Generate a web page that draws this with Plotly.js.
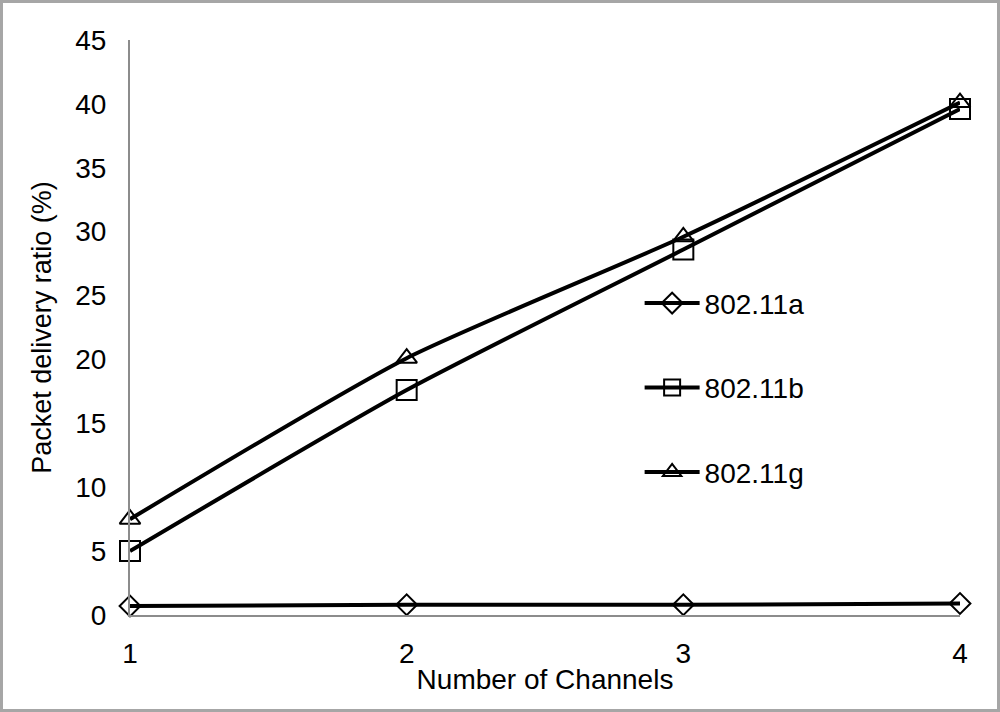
<!DOCTYPE html>
<html>
<head>
<meta charset="utf-8">
<script src="https://cdn.plot.ly/plotly-3.0.1.min.js"></script>
<style>
html,body{margin:0;padding:0;background:#fff;}
#wrap{position:relative;width:1000px;height:712px;}
#chart{width:1000px;height:712px;}
#frame{position:absolute;left:0;top:0;width:1000px;height:712px;box-sizing:border-box;border:3px solid #a6a6a6;pointer-events:none;}
</style>
</head>
<body>
<div id="wrap"><div id="chart"></div><div id="frame"></div></div>
<script>
var channels = [1, 2, 3, 4];
var seriesNames = ["802.11a", "802.11b", "802.11g"];
var pdr_a = [0.7, 0.8, 0.8, 0.9];
var pdr_b = [5.0, 17.6, 28.6, 39.6];
var pdr_g = [7.5, 20.1, 29.6, 40.1];
var yTicks = [0, 5, 10, 15, 20, 25, 30, 35, 40, 45];

var symbols = ["diamond-open", "square-open", "triangle-up-open"];
var sizes = [16, 20, 18];
var data = [pdr_a, pdr_b, pdr_g].map(function (ys, i) {
  return {
    x: channels, y: ys, name: seriesNames[i], type: "scatter", mode: "lines+markers",
    legendgroup: "g" + i,
    line: {color: "#000", width: 4, shape: "spline", smoothing: 0.6},
    marker: {symbol: symbols[i], size: sizes[i], color: "#000", line: {width: 2, color: "#000"}},
    cliponaxis: false
  };
});

var fam = "Liberation Sans, Arial, sans-serif";
var layout = {
  width: 1000, height: 712,
  margin: {l: 130, r: 40, t: 40, b: 97},
  paper_bgcolor: "#fff", plot_bgcolor: "#fff",
  font: {family: fam, size: 28, color: "#000"},
  showlegend: true,
  legend: {x: 0.614, y: 0.395, xanchor: "left", yanchor: "middle", traceorder: "grouped",
           itemwidth: 55, tracegroupgap: 45, font: {family: fam, size: 28, color: "#000"}, bgcolor: "rgba(0,0,0,0)"},
  xaxis: {
    range: [1, 4], tickvals: channels, ticktext: channels.map(String),
    showgrid: false, zeroline: false, showline: true, linecolor: "#8c8c8c", linewidth: 2,
    ticks: "", ticklabelstandoff: 12,
    tickfont: {family: fam, size: 28, color: "#000"},
    title: {text: "Number of Channels", font: {family: fam, size: 28, color: "#000"}, standoff: 2}
  },
  yaxis: {
    range: [0, 45], tickvals: yTicks, ticktext: yTicks.map(String),
    showgrid: false, zeroline: false, showline: true, linecolor: "#8c8c8c", linewidth: 2,
    ticks: "", ticklabelstandoff: 16,
    tickfont: {family: fam, size: 28, color: "#000"},
    title: {text: "Packet delivery ratio (%)", font: {family: fam, size: 27, color: "#000"}, standoff: 16}
  }
};
Plotly.newPlot("chart", data, layout, {displayModeBar: false, staticPlot: true});
</script>
</body>
</html>
